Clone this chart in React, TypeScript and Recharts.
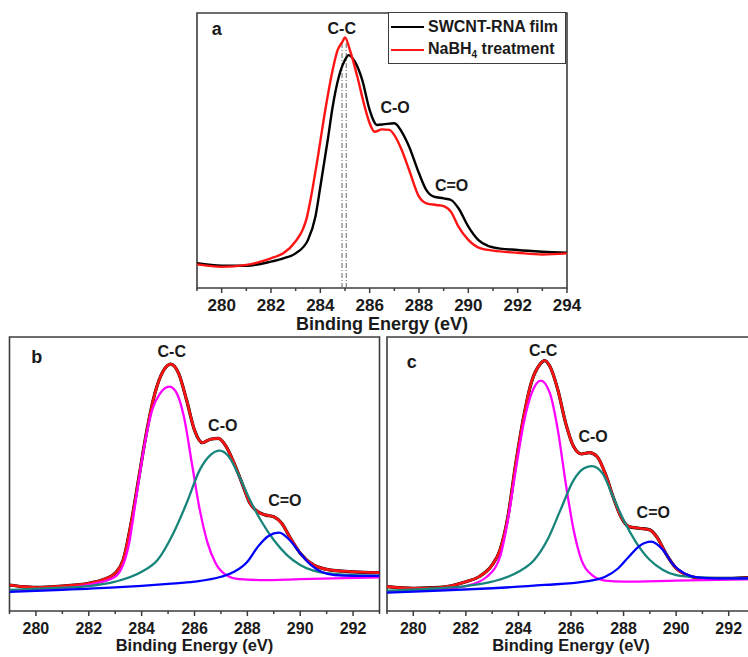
import React from 'react';
import { LineChart, Line, XAxis, YAxis, ReferenceArea, ReferenceLine, ReferenceDot } from 'recharts';

type Pt = { e: number; i: number };
const pts = (rows: number[][]): Pt[] => rows.map(([e, i]) => ({ e, i }));

// panel a: raw C1s spectra
const aFilm = pts([
  [279, 9.0], [280, 8.1], [281, 8.1], [282, 9.6], [282.5, 10.8], [283, 12.6], [283.5, 17.5],
  [283.8, 25.9], [284, 36.8], [284.3, 53.8], [284.5, 65.9], [284.75, 76.8], [285, 82.9],
  [285.15, 84.7], [285.4, 82.3], [285.7, 75.6], [286, 64.7], [286.3, 59.3], [286.6, 59.6],
  [287, 59.9], [287.3, 56.8], [287.6, 51.4], [288, 41.7], [288.3, 35.6], [288.6, 33.2],
  [289, 32.6], [289.3, 32], [289.6, 29], [290, 22.3], [290.4, 17.5], [290.8, 15.3],
  [291, 14.8], [292, 13.8], [293, 13.2], [294, 12.8],
]);
const aNaBH4 = pts([
  [279, 8.6], [280, 7.7], [281, 8.4], [282, 10.8], [282.5, 12.6], [283, 17.0], [283.3, 21.5],
  [283.45, 25.5], [283.6, 32], [283.9, 47.7], [284.2, 64.7], [284.5, 79.3], [284.7, 86.5],
  [284.9, 89.6], [285, 91.1], [285.2, 86.5], [285.5, 76.8], [285.8, 65.9], [286, 59.9],
  [286.2, 56.8], [286.5, 57.7], [286.8, 57.5], [287, 55.6], [287.3, 50.2], [287.6, 42.9],
  [288, 33.2], [288.3, 30.8], [288.7, 30.2], [289, 29.8], [289.3, 27.7], [289.6, 22.3],
  [290, 17.5], [290.5, 14.4], [291, 13.6], [292, 12.8], [293, 12.2], [294, 12.6],
]);
const ccMarkers = [284.88, 285.05];

// panel b: SWCNT-RNA film fit
const bEnvelope = pts([
  [279, 9.5], [279.5, 8.9], [280, 8.6], [281, 9.1], [282, 10.1], [282.5, 11.3], [283, 13.8],
  [283.3, 18.6], [283.6, 32], [283.9, 49], [284.2, 66], [284.5, 79.4], [284.8, 87.3],
  [285.1, 90.1], [285.4, 86.7], [285.7, 77], [286, 66], [286.3, 61.4], [286.6, 62.7],
  [286.9, 63], [287.2, 60], [287.5, 53.9], [287.8, 46.6], [288.1, 39.3], [288.4, 36.2],
  [288.7, 35], [289, 34.4], [289.3, 32], [289.6, 27.1], [290, 21.1], [290.5, 16.8],
  [291, 15.2], [292, 14.3], [293, 14],
]);
const bCC = pts([
  [279, 7.4], [281, 8.3], [282, 9.5], [283, 12.5], [283.5, 23.5], [283.8, 41.7], [284.1, 60],
  [284.4, 73.4], [284.7, 79.4], [285.05, 81.9], [285.3, 80], [285.6, 70.9], [285.9, 53.9],
  [286.2, 36.9], [286.5, 24.7], [286.8, 17.4], [287.2, 13.1], [287.7, 11.6], [288.5, 11.3],
  [290, 11.6], [293, 12.3],
]);
const bCO = pts([
  [279, 7.7], [281, 8.5], [282, 9.1], [283, 10.7], [284, 14.3], [284.6, 18.6], [285.2, 28.4],
  [285.7, 39.3], [286.2, 51.5], [286.6, 56.9], [286.95, 58.5], [287.3, 56.3], [287.7, 49],
  [288.1, 40.5], [288.5, 33.2], [289, 25.9], [289.5, 20.4], [290, 16.8], [290.5, 14.7],
  [291, 13.8], [292, 13.1], [293, 12.9],
]);
const bCdO = pts([
  [279, 7.0], [281, 7.7], [283, 8.6], [285, 9.9], [286, 10.7], [287, 12.5], [287.5, 14.3],
  [288, 18], [288.4, 23.5], [288.8, 27.4], [289.2, 28.6], [289.6, 25.9], [290, 21.1],
  [290.4, 16.8], [290.8, 14.3], [291.3, 13.1], [292, 12.8], [293, 12.8],
]);

// panel c: after NaBH4 treatment
const cEnvelope = pts([
  [279, 8.9], [280, 8.3], [281, 8.6], [282, 10.7], [282.5, 12.5], [283, 16.8], [283.3, 22.3],
  [283.6, 34.4], [283.9, 53.9], [284.2, 70.9], [284.5, 83.7], [284.8, 89.8], [285, 91.4],
  [285.2, 89.2], [285.5, 80.7], [285.8, 68.5], [286.1, 60], [286.4, 57.3], [286.7, 57.8],
  [287, 56.3], [287.3, 50.2], [287.6, 41.7], [287.9, 34.4], [288.2, 30.8], [288.6, 30.2],
  [289, 29.6], [289.3, 26.5], [289.6, 21.1], [290, 15.6], [290.5, 12.8], [291, 11.9],
  [292, 11.9], [293, 12.3],
]);
const cCC = pts([
  [279, 7.0], [281, 7.9], [282, 9.1], [282.8, 12.5], [283.3, 19.8], [283.6, 33.2], [283.9, 51.5],
  [284.2, 68.5], [284.5, 79.4], [284.85, 84.1], [285.2, 79.4], [285.5, 66], [285.8, 46.6],
  [286.1, 29.6], [286.4, 18.6], [286.8, 13.1], [287.3, 11.1], [288, 10.7], [290, 11.1], [293, 11.6],
]);
const cCO = pts([
  [279, 7.4], [281, 8.3], [282, 9.1], [283, 10.7], [284, 14.3], [284.6, 18.6], [285.1, 25.9],
  [285.6, 36.9], [286.1, 47.8], [286.5, 52.1], [286.8, 52.9], [287.2, 50.2], [287.6, 41.7],
  [288, 33.2], [288.5, 24.7], [289, 18.6], [289.5, 15], [290, 13.1], [291, 12.2], [292, 11.9],
  [293, 11.9],
]);
const cCdO = pts([
  [279, 6.7], [281, 7.4], [283, 8.3], [285, 9.5], [286.5, 10.7], [287.3, 12.5], [287.8, 15.6],
  [288.2, 19.8], [288.6, 23.7], [289.05, 25.3], [289.5, 22.3], [289.9, 16.8], [290.3, 13.8],
  [290.8, 12.3], [291.5, 11.9], [293, 11.9],
]);

const ticksA = [279, 280, 281, 282, 283, 284, 285, 286, 287, 288, 289, 290, 291, 292, 293, 294];
const ticksBC = [279, 280, 281, 282, 283, 284, 285, 286, 287, 288, 289, 290, 291, 292, 293];

const FONT = '"Liberation Sans", Arial, Helvetica, sans-serif';
const INK = '#1a1a1a';
const FRAME = '#3c3c3c';
const BLACK = '#000000';
const RED = '#ff1414';
const MAGENTA = '#ff00ff';
const TEAL = '#17857b';
const BLUE = '#0000ff';

type Series = { key: string; data: Pt[]; color: string; width: number };
type Note = { text: string; e: number; i: number; size: number };

const makeTick = (fontSize: number) => (props: any) => {
  const { x, y, payload } = props;
  const major = payload.value % 2 === 0;
  return (
    <g>
      <line x1={x} y1={y} x2={x} y2={y + (major ? 5 : 3)} stroke={FRAME} strokeWidth={1.5} />
      {major && (
        <text x={x} y={y + 23} textAnchor="middle" fontSize={fontSize} fontWeight="bold" fill={INK} fontFamily={FONT}>
          {payload.value}
        </text>
      )}
    </g>
  );
};

interface PanelProps {
  width: number;
  height: number;
  margin: { top: number; right: number; bottom: number; left: number };
  axisHeight: number;
  domain: [number, number];
  ticks: number[];
  tickSize: number;
  labelSize: number;
  series: Series[];
  notes: Note[];
  markers?: number[];
}

const XpsPanel: React.FC<PanelProps> = ({ width, height, margin, axisHeight, domain, ticks, tickSize, labelSize, series, notes, markers = [] }) => {
  const Tick = makeTick(tickSize);
  return (
    <LineChart width={width} height={height} margin={margin} style={{ overflow: 'visible' }}>
      <XAxis
        dataKey="e"
        type="number"
        domain={domain}
        ticks={ticks}
        allowDataOverflow
        axisLine={false}
        tickLine={false}
        tickSize={0}
        tickMargin={0}
        interval={0}
        height={axisHeight}
        tick={<Tick />}
        label={{ value: 'Binding Energy (eV)', position: 'insideBottom', offset: 0, fontSize: labelSize, fontWeight: 'bold', fill: INK, fontFamily: FONT }}
      />
      <YAxis type="number" domain={[0, 100]} hide allowDataOverflow />
      {markers.map(m => (
        <ReferenceLine
          key={m}
          segment={[{ x: m, y: 0 }, { x: m, y: 89 }]}
          stroke="#666"
          strokeWidth={1}
          strokeDasharray="5 2 1 2"
        />
      ))}
      {series.map(s => (
        <Line
          key={s.key}
          data={s.data}
          dataKey="i"
          type="monotone"
          stroke={s.color}
          strokeWidth={s.width}
          dot={false}
          activeDot={false}
          isAnimationActive={false}
        />
      ))}
      <ReferenceArea x1={domain[0]} x2={domain[1]} y1={0} y2={100} fill="none" stroke={FRAME} strokeWidth={1.6} />
      {notes.map(n => (
        <ReferenceDot
          key={n.text}
          x={n.e}
          y={n.i}
          r={1}
          fill="none"
          stroke="none"
          label={{ value: n.text, position: 'center', fontSize: n.size, fontWeight: 'bold', fill: INK, fontFamily: FONT }}
        />
      ))}
    </LineChart>
  );
};

const legendItems = [
  { color: BLACK, label: <>SWCNT-RNA film</> },
  { color: RED, label: <>NaBH<sub style={{ fontSize: 10, verticalAlign: -4 }}>4</sub> treatment</> },
];

export default function App() {
  return (
    <div style={{ position: 'absolute', left: 0, top: 0, width: 748, height: 657, overflow: 'hidden', background: '#fff', fontFamily: FONT }}>
      <div style={{ position: 'absolute', left: 0, top: 0 }}>
        <XpsPanel
          width={748}
          height={335}
          margin={{ top: 13, right: 181, bottom: 5, left: 197 }}
          axisHeight={42}
          domain={[279, 294]}
          ticks={ticksA}
          tickSize={17}
          labelSize={18}
          markers={ccMarkers}
          series={[
            { key: 'film', data: aFilm, color: BLACK, width: 2.4 },
            { key: 'nabh4', data: aNaBH4, color: RED, width: 2.4 },
          ]}
          notes={[
            { text: 'a', e: 279.8, i: 94.4, size: 18 },
            { text: 'C-C', e: 284.87, i: 94.4, size: 16 },
            { text: 'C-O', e: 287.03, i: 65.8, size: 16 },
            { text: 'C=O', e: 289.32, i: 37.5, size: 16 },
          ]}
        />
      </div>
      <div
        style={{
          position: 'absolute', left: 388, top: 12, width: 178, height: 52, boxSizing: 'border-box',
          border: `1.5px solid ${FRAME}`, background: '#fff', padding: '3px 0 0 2px',
          fontWeight: 'bold', fontSize: 16, color: INK,
        }}
      >
        {legendItems.map((item, idx) => (
          <div key={idx} style={{ display: 'flex', alignItems: 'center', height: 22.5 }}>
            <span style={{ display: 'inline-block', width: 33, height: 2.4, background: item.color, marginRight: 4 }} />
            <span style={{ whiteSpace: 'nowrap' }}>{item.label}</span>
          </div>
        ))}
      </div>
      <div style={{ position: 'absolute', left: 0, top: 320 }}>
        <XpsPanel
          width={385}
          height={337}
          margin={{ top: 17, right: 5.5, bottom: 6, left: 9.5 }}
          axisHeight={40}
          domain={[279, 293]}
          ticks={ticksBC}
          tickSize={16}
          labelSize={16.5}
          series={[
            { key: 'raw', data: bEnvelope, color: BLACK, width: 3.2 },
            { key: 'fit', data: bEnvelope, color: RED, width: 2.6 },
            { key: 'cc', data: bCC, color: MAGENTA, width: 2.3 },
            { key: 'co', data: bCO, color: TEAL, width: 2.3 },
            { key: 'cdo', data: bCdO, color: BLUE, width: 2.3 },
          ]}
          notes={[
            { text: 'b', e: 280.03, i: 92.7, size: 18 },
            { text: 'C-C', e: 285.14, i: 94.6, size: 16 },
            { text: 'C-O', e: 287.07, i: 67.6, size: 16 },
            { text: 'C=O', e: 289.42, i: 40.3, size: 16 },
          ]}
        />
      </div>
      <div style={{ position: 'absolute', left: 380, top: 320 }}>
        <XpsPanel
          width={380}
          height={337}
          margin={{ top: 17, right: 5, bottom: 6, left: 7 }}
          axisHeight={40}
          domain={[279, 293]}
          ticks={ticksBC}
          tickSize={16}
          labelSize={16.5}
          series={[
            { key: 'raw', data: cEnvelope, color: BLACK, width: 3.2 },
            { key: 'fit', data: cEnvelope, color: RED, width: 2.6 },
            { key: 'cc', data: cCC, color: MAGENTA, width: 2.3 },
            { key: 'co', data: cCO, color: TEAL, width: 2.3 },
            { key: 'cdo', data: cCdO, color: BLUE, width: 2.3 },
          ]}
          notes={[
            { text: 'c', e: 279.94, i: 91.0, size: 18 },
            { text: 'C-C', e: 284.94, i: 95.3, size: 16 },
            { text: 'C-O', e: 286.84, i: 63.9, size: 16 },
            { text: 'C=O', e: 289.13, i: 35.9, size: 16 },
          ]}
        />
      </div>
    </div>
  );
}
